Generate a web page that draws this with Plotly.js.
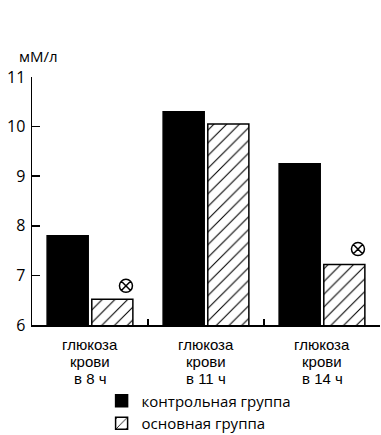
<!DOCTYPE html>
<html><head><meta charset="utf-8">
<script src="https://cdn.plot.ly/plotly-3.0.1.min.js"></script>
<style>body{margin:0;padding:0;background:#fff}#chart{width:381px;height:435px}</style>
</head><body><div id="chart"></div>
<script>
const categories = ["8 ч", "11 ч", "14 ч"];
const labelLines = [["глюкоза", "крови", "в 8 ч"], ["глюкоза", "крови", "в 11 ч"], ["глюкоза", "крови", "в 14 ч"]];
const controlValues = [7.8, 10.3, 9.25];
const mainValues = [6.52, 10.05, 7.22];
const sigMarkY = [6.79, null, 7.53];
const yTicks = [6, 7, 8, 9, 10, 11];

const font = "Open Sans, Noto Sans, sans-serif";
const labelFont = "Liberation Sans, Arial, sans-serif";
const sigOffset = 0.31;   // marker placement to the right of the hatched bar
const catIndex = categories.map((c, i) => i);

const data = [
  {type:"bar", name:"контрольная группа", x:categories, y:controlValues,
   marker:{color:"#000", line:{color:"#000", width:1.5}}},
  {type:"bar", name:"основная группа", x:categories, y:mainValues,
   marker:{color:"#fff", line:{color:"#000", width:1.5},
     pattern:{shape:"/", fgcolor:"#000", bgcolor:"#fff", size:9, solidity:0.12}}},
  {type:"scatter", mode:"markers", xaxis:"x2", x:catIndex.map(i => i + sigOffset), y:sigMarkY, showlegend:false,
   marker:{symbol:"circle-x-open", size:13, color:"#000", line:{width:1.5, color:"#000"}}}
];

const annotations = [{text:"мМ/л", xref:"paper", yref:"paper", x:-0.043, y:1.085, xanchor:"left", yanchor:"middle",
    showarrow:false, font:{size:15, family:font}}];
const lineShift = [-19, -36, -53];
categories.forEach((c, i) => {
  labelLines[i].forEach((t, j) => {
    annotations.push({text:t, x:c, xref:"x", yref:"paper", y:0, yanchor:"middle", xanchor:"center",
      yshift:lineShift[j], borderpad:0, showarrow:false, font:{size:15, family:labelFont}});
  });
});

const layout = {
  width:381, height:435,
  margin:{l:32, r:1, t:77, b:110, autoexpand:false},
  paper_bgcolor:"#fff", plot_bgcolor:"#fff",
  font:{family:font, color:"#000", size:15},
  barmode:"group",
  bargap:0.23, bargroupgap:0.08,
  showlegend:true,
  legend:{x:0.2, y:-0.24, xanchor:"left", yanchor:"top", orientation:"v",
    font:{size:15, family:font}, tracegroupgap:0, itemwidth:30},
  xaxis:{type:"category", showline:true, linecolor:"#000", linewidth:1.5,
    ticks:"inside", tickson:"boundaries", ticklen:6, tickwidth:1.5, tickcolor:"#000",
    showticklabels:false, showgrid:false, zeroline:false, fixedrange:true},
  xaxis2:{overlaying:"x", range:[-0.5, 2.5], visible:false, fixedrange:true},
  yaxis:{range:[6,11], tickvals:yTicks, showline:true, linecolor:"#000", linewidth:1.5,
    ticks:"inside", ticklen:8, tickwidth:1.5, tickcolor:"#000", ticklabelstandoff:2,
    tickfont:{size:16, family:font}, showgrid:false, zeroline:false},
  annotations:annotations
};
Plotly.newPlot("chart", data, layout, {displayModeBar:false, staticPlot:true});
</script></body></html>
